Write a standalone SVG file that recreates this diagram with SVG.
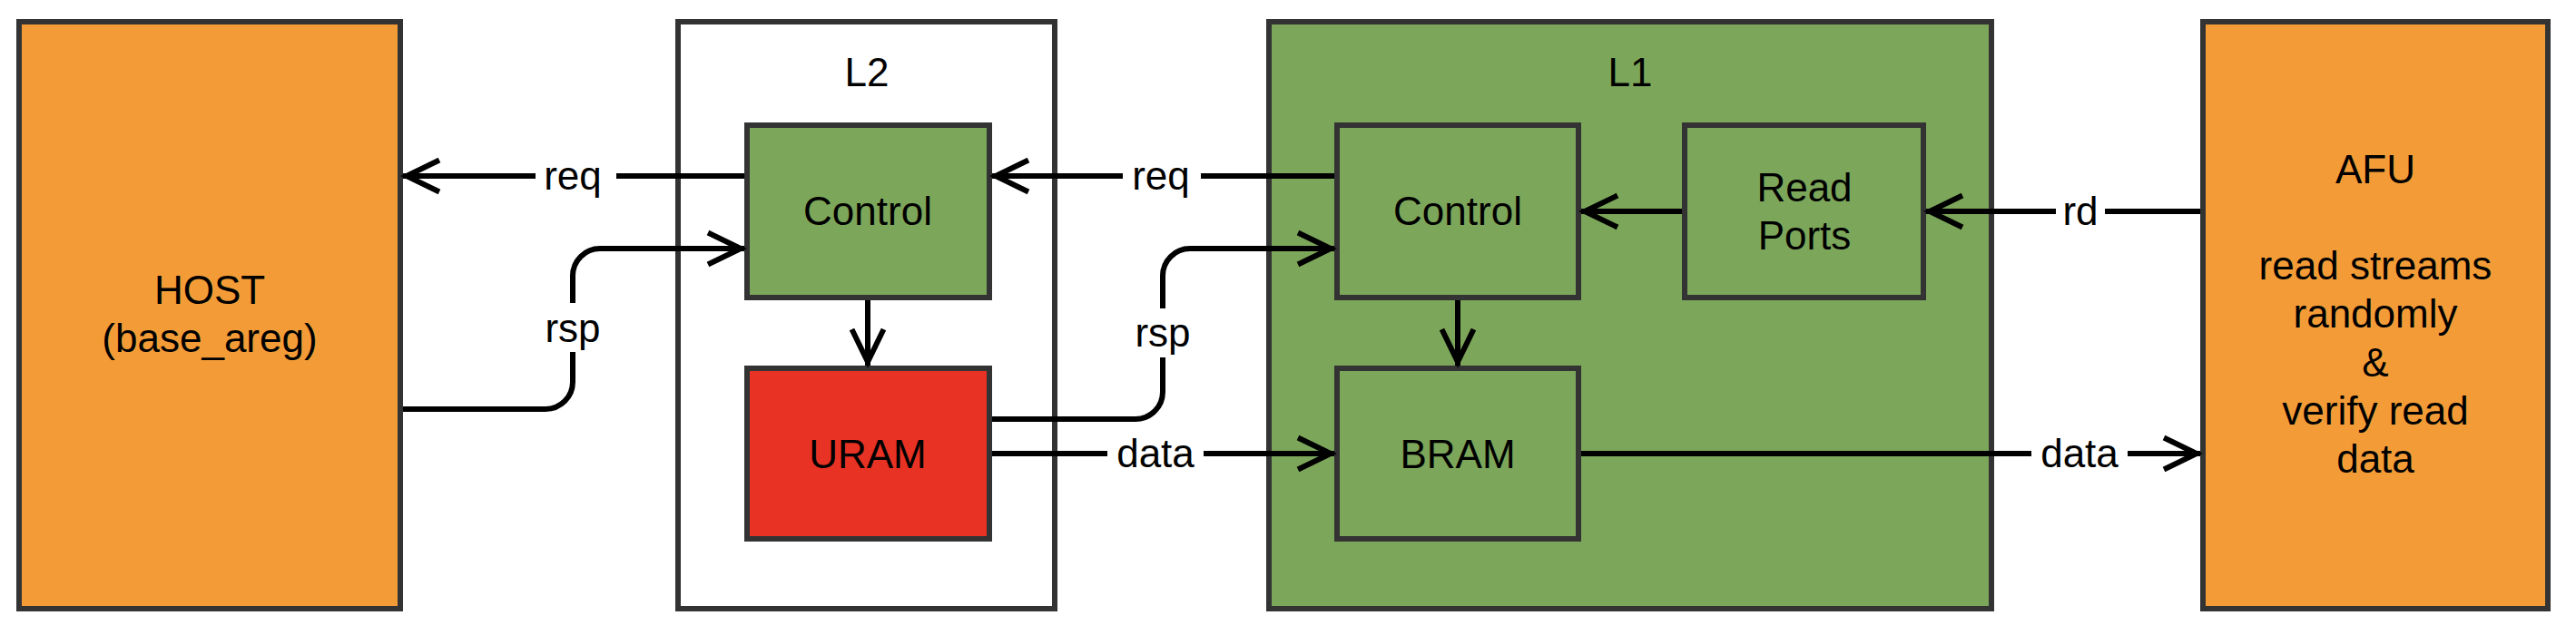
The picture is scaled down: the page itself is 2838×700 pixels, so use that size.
<svg xmlns="http://www.w3.org/2000/svg" width="2838" height="700" viewBox="0 0 2838 700">
<defs>
<style>
.box{stroke:#333333;stroke-width:6}
.orange{fill:#F39C37}
.green{fill:#7CA65A}
.red{fill:#E83224}
.white{fill:#FFFFFF}
text{font-family:"Liberation Sans",Arial,sans-serif;font-size:44px;fill:#000000;text-anchor:middle}
.conn{fill:none;stroke:#000000;stroke-width:6}
.lbl{fill:#FFFFFF}
</style>
<marker id="arr" markerUnits="userSpaceOnUse" markerWidth="60" markerHeight="60" refX="0" refY="0" orient="auto" overflow="visible" viewBox="-50 -30 60 60">
<path d="M-40,-17.5 L-4,0 L-40,17.5" fill="none" stroke="#000000" stroke-width="6"/>
</marker>
</defs>
<rect width="2838" height="700" fill="#FFFFFF"/>
<g id="host">
<rect class="box orange" x="21" y="24" width="420" height="647"/>
<text x="231" y="335">HOST</text>
<text x="231" y="388">(base_areg)</text>
</g>
<g id="l2">
<rect class="box white" x="747" y="24" width="415" height="647"/>
<text x="955" y="95">L2</text>
</g>
<g id="l1">
<rect class="box green" x="1398" y="24" width="796" height="647"/>
<text x="1796" y="95">L1</text>
</g>
<g id="afu">
<rect class="box orange" x="2427" y="24" width="380" height="647"/>
<text x="2617" y="202">AFU</text>
<text x="2617" y="308">read streams</text>
<text x="2617" y="361">randomly</text>
<text x="2617" y="415">&amp;</text>
<text x="2617" y="468">verify read</text>
<text x="2617" y="521">data</text>
</g>
<g id="l2-control">
<rect class="box green" x="823" y="138" width="267" height="190"/>
<text x="956" y="248">Control</text>
</g>
<g id="uram">
<rect class="box red" x="823" y="406" width="267" height="188"/>
<text x="956" y="516">URAM</text>
</g>
<g id="l1-control">
<rect class="box green" x="1473" y="138" width="266" height="190"/>
<text x="1606" y="248">Control</text>
</g>
<g id="bram">
<rect class="box green" x="1473" y="406" width="266" height="188"/>
<text x="1606" y="516">BRAM</text>
</g>
<g id="read-ports">
<rect class="box green" x="1856" y="138" width="263" height="190"/>
<text x="1988" y="222">Read</text>
<text x="1988" y="275">Ports</text>
</g>
<g id="connectors">
<path class="conn" d="M820,194 H444" marker-end="url(#arr)"/>
<path class="conn" d="M444,451 H601 A30,30 0 0 0 631,421 V304 A30,30 0 0 1 661,274 H820" marker-end="url(#arr)"/>
<path class="conn" d="M956,331 V403" marker-end="url(#arr)"/>
<path class="conn" d="M1470,194 H1093" marker-end="url(#arr)"/>
<path class="conn" d="M1093,462 H1251 A30,30 0 0 0 1281,432 V304 A30,30 0 0 1 1311,274 H1470" marker-end="url(#arr)"/>
<path class="conn" d="M1093,500 H1470" marker-end="url(#arr)"/>
<path class="conn" d="M1853,233 H1742" marker-end="url(#arr)"/>
<path class="conn" d="M1606,331 V403" marker-end="url(#arr)"/>
<path class="conn" d="M2424,233 H2122" marker-end="url(#arr)"/>
<path class="conn" d="M1742,500 H2424" marker-end="url(#arr)"/>
<rect class="lbl" x="590" y="170" width="89" height="48"/>
<text x="631" y="209">req</text>
<rect class="lbl" x="597" y="334" width="68" height="54"/>
<text x="631" y="377">rsp</text>
<rect class="lbl" x="1237" y="170" width="86" height="48"/>
<text x="1279" y="209">req</text>
<rect class="lbl" x="1247" y="340" width="68" height="54"/>
<text x="1281" y="382">rsp</text>
<rect class="lbl" x="1220" y="476" width="106" height="48"/>
<text x="1273" y="515">data</text>
<rect class="lbl" x="2265" y="209" width="54" height="48"/>
<text x="2292" y="248">rd</text>
<rect class="lbl" x="2238" y="476" width="106" height="48"/>
<text x="2291" y="515">data</text>
</g>
</svg>
